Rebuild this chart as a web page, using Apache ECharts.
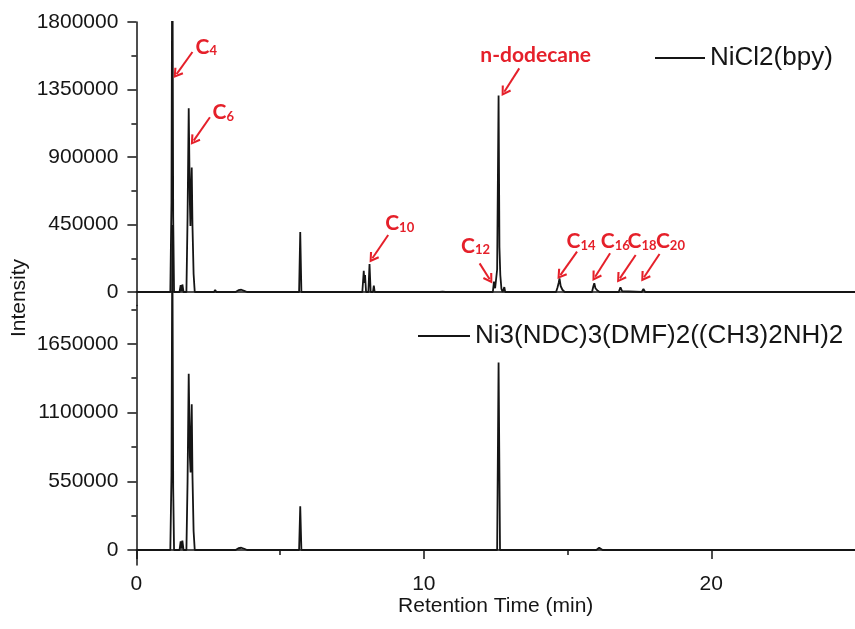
<!DOCTYPE html>
<html>
<head>
<meta charset="utf-8">
<script src="https://cdn.jsdelivr.net/npm/echarts@6/dist/echarts.min.js"></script>
<style>
  html, body { margin: 0; padding: 0; background: #fff; }
  #chart { width: 855px; height: 629px; }
</style>
</head>
<body>
<div id="chart"></div>
<script>
// GC traces: [retention time (min), intensity]
const seriesNames = ['NiCl2(bpy)', 'Ni3(NDC)3(DMF)2((CH3)2NH)2'];

const traceNiCl2 = [
  [0, 0], [1.18, 0], [1.22, 600000], [1.25, 2600000], [1.28, 500000], [1.31, 0],
  [1.50, 0], [1.54, 45000], [1.57, 5000], [1.60, 50000], [1.64, 0],
  [1.74, 0], [1.78, 500000], [1.82, 1225000], [1.86, 600000], [1.88, 440000],
  [1.905, 700000], [1.925, 830000], [1.95, 450000], [1.99, 120000], [2.03, 0],
  [2.70, 0], [2.74, 14000], [2.78, 0],
  [3.45, 0], [3.55, 12000], [3.65, 15000], [3.75, 8000], [3.85, 0],
  [5.66, 0], [5.70, 400000], [5.74, 0],
  [6.95, 0], [7.00, 5000], [7.05, 0], [7.20, 0], [7.25, 6000], [7.30, 0],
  [7.45, 0], [7.50, 7000], [7.55, 0], [7.65, 0], [7.70, 12000], [7.75, 0],
  [7.86, 0], [7.91, 142000], [7.93, 60000], [7.955, 113000], [7.99, 0],
  [8.07, 0], [8.11, 187000], [8.15, 0], [8.23, 0], [8.26, 42000], [8.29, 0],
  [10.55, 0], [10.60, 6000], [10.65, 3000], [10.70, 6000], [10.75, 0],
  [12.40, 0], [12.44, 69000], [12.48, 25000], [12.55, 150000], [12.60, 1310000],
  [12.63, 300000], [12.66, 113000], [12.70, 20000], [12.74, 0],
  [12.78, 0], [12.80, 33000], [12.83, 0],
  [14.60, 0], [14.65, 30000], [14.69, 60000], [14.72, 91000], [14.76, 40000], [14.82, 15000], [14.90, 0],
  [15.85, 0], [15.90, 40000], [15.93, 58000], [15.97, 25000], [16.05, 8000], [16.12, 0],
  [16.78, 0], [16.84, 31000], [16.90, 5000], [16.95, 0],
  [17.58, 0], [17.64, 20000], [17.70, 0],
  [18.30, 0], [18.34, 5000], [18.38, 0],
  [25, 0]
];

const traceNiMOF = [
  [0, 0], [1.18, 0], [1.22, 600000], [1.25, 2600000], [1.28, 500000], [1.31, 0],
  [1.50, 0], [1.54, 70000], [1.57, 10000], [1.60, 75000], [1.64, 0],
  [1.74, 0], [1.78, 550000], [1.82, 1410000], [1.86, 750000], [1.885, 620000],
  [1.905, 950000], [1.925, 1165000], [1.95, 600000], [1.99, 150000], [2.03, 0],
  [2.70, 0], [2.74, 12000], [2.78, 0],
  [3.45, 0], [3.55, 14000], [3.65, 18000], [3.75, 10000], [3.85, 0],
  [5.66, 0], [5.70, 350000], [5.74, 0],
  [6.55, 0], [6.60, 6000], [6.65, 0], [6.90, 0], [6.95, 7000], [7.00, 0],
  [7.20, 0], [7.25, 8000], [7.30, 0], [7.50, 0], [7.55, 9000], [7.60, 0],
  [7.85, 0], [7.90, 7000], [7.95, 0], [8.10, 0], [8.15, 6000], [8.20, 0],
  [10.55, 0], [10.60, 7000], [10.65, 0], [10.70, 6000], [10.75, 0],
  [12.55, 0], [12.60, 1500000], [12.65, 0],
  [14.62, 0], [14.67, 6000], [14.72, 0], [14.86, 0], [14.90, 6000], [14.94, 0],
  [16.00, 0], [16.05, 15000], [16.10, 18000], [16.16, 5000], [16.22, 0],
  [25, 0]
];

// axis ticks
const timeTicksMajor = [0, 10, 20];
const timeTicksMinor = [5, 15];
const topTicksMajor = [0, 450000, 900000, 1350000, 1800000];
const topTicksMinor = [225000, 675000, 1125000, 1575000];
const bottomTicksMajor = [0, 550000, 1100000, 1650000];
const bottomTicksMinor = [275000, 825000, 1375000, 1925000];

// peak annotations on the NiCl2(bpy) trace
const peakMain = ['C', 'C', 'C', 'C', 'n-dodecane', 'C', 'C', 'C', 'C'];
const peakSub = ['4', '6', '10', '12', '', '14', '16', '18', '20'];
const peakLabelAt = [
  [2.43, 1635000], [3.02, 1200000], [9.16, 460000], [11.80, 310000], [13.89, 1580000],
  [15.47, 340000], [16.66, 340000], [17.59, 340000], [18.58, 340000]
];
const arrowFrom = [
  [1.95, 1600000], [2.558, 1165000], [8.76, 380000], [11.94, 191000], [13.32, 1491000],
  [15.33, 269000], [16.48, 258000], [17.37, 247000], [18.20, 253000]
];
const arrowTo = [
  [1.398, 1453000], [1.993, 1009000], [8.21, 225000], [12.29, 85000], [12.80, 1335000],
  [14.75, 113000], [15.96, 102000], [16.82, 91000], [17.66, 98000]
];

const INK = '#151515';
const RED = '#e5202a';
const FONT = '"Liberation Sans", Arial, sans-serif';
const CHEVRON = 'path://M5,0 L10,9 L8.4,10.2 L5,3.8 L1.6,10.2 L0,9 Z';
const plainNumber = (v) => String(Math.round(v));

const chart = echarts.init(document.getElementById('chart'), null, { renderer: 'canvas' });

function yAxisPair(grid, min, max, major, minor) {
  return [
    {
      gridIndex: grid, type: 'value', position: 'left', min: min, max: max,
      axisLine: { show: true, lineStyle: { color: INK, width: 1.5 } },
      axisTick: { show: true, inside: false, length: 9, customValues: major, lineStyle: { color: INK, width: 1.5 } },
      axisLabel: { show: true, customValues: major, formatter: plainNumber, margin: 18, fontSize: 21, fontFamily: FONT, color: INK },
      splitLine: { show: false }
    },
    {
      gridIndex: grid, type: 'value', position: 'left', min: min, max: max,
      axisLine: { show: false },
      axisTick: { show: true, inside: false, length: 5, customValues: minor, lineStyle: { color: INK, width: 1.5 } },
      axisLabel: { show: false },
      splitLine: { show: false }
    }
  ];
}

const markPointData = peakMain.map((m, i) => ({
  coord: peakLabelAt[i],
  label: {
    formatter: peakSub[i] ? '{m|' + m + '}{s|' + peakSub[i] + '}' : '{m|' + m + '}'
  }
}));

const markLineData = arrowFrom.map((f, i) => [{ coord: f }, { coord: arrowTo[i] }]);

chart.setOption({
  animation: false,
  backgroundColor: '#fff',
  grid: [
    { left: 136.4, top: 22, width: 726, height: 283.5 },
    { left: 136.4, top: 305.5, width: 726, height: 259.5 }
  ],
  xAxis: [
    {
      gridIndex: 0, type: 'value', position: 'top', min: 0, max: 25,
      axisLine: { show: true, lineStyle: { color: INK, width: 1.5 } },
      axisTick: { show: false }, axisLabel: { show: false }, splitLine: { show: false }
    },
    {
      gridIndex: 1, type: 'value', position: 'bottom', min: 0, max: 25,
      axisLine: { show: true, lineStyle: { color: INK, width: 1.5 } },
      axisTick: { show: true, length: 9, customValues: timeTicksMajor, lineStyle: { color: INK, width: 1.5 } },
      axisLabel: { show: true, customValues: timeTicksMajor, formatter: plainNumber, margin: 9, fontSize: 21, fontFamily: FONT, color: INK },
      splitLine: { show: false },
      name: 'Retention Time (min)', nameLocation: 'middle', nameGap: 31,
      nameTextStyle: { fontSize: 21, fontFamily: FONT, color: INK }
    },
    {
      gridIndex: 1, type: 'value', position: 'bottom', min: 0, max: 25,
      axisLine: { show: false },
      axisTick: { show: true, length: 5, customValues: timeTicksMinor, lineStyle: { color: INK, width: 1.5 } },
      axisLabel: { show: false }, splitLine: { show: false }
    }
  ],
  yAxis: [
    ...yAxisPair(0, -90000, 1800000, topTicksMajor, topTicksMinor),
    ...yAxisPair(1, -120000, 1956000, bottomTicksMajor, bottomTicksMinor)
  ],
  legend: [
    {
      data: [seriesNames[0]], left: 650, top: 40, icon: 'rect', itemWidth: 50, itemHeight: 2,
      textStyle: { fontSize: 26, fontFamily: FONT, color: INK }, selectedMode: false
    },
    {
      data: [seriesNames[1]], left: 413, top: 318, icon: 'rect', itemWidth: 52, itemHeight: 2,
      textStyle: { fontSize: 26, fontFamily: FONT, color: INK }, selectedMode: false
    }
  ],
  graphic: [
    {
      type: 'text', x: 19, y: 298, rotation: Math.PI / 2,
      style: { text: 'Intensity', fontSize: 21, fontFamily: FONT, fill: INK, align: 'center', verticalAlign: 'middle' }
    }
  ],
  series: [
    {
      name: seriesNames[0], type: 'line', xAxisIndex: 0, yAxisIndex: 0,
      data: traceNiCl2, showSymbol: false, clip: true, color: INK,
      lineStyle: { color: INK, width: 1.8 },
      markPoint: {
        silent: true, symbol: 'circle', symbolSize: 0,
        itemStyle: { color: 'rgba(0,0,0,0)' },
        label: {
          show: true, position: 'inside',
          rich: {
            m: { fontFamily: 'Lato', fontWeight: 'bold', fontSize: 21, color: RED, lineHeight: 22, verticalAlign: 'bottom' },
            s: { fontFamily: 'Lato', fontWeight: 'bold', fontSize: 13, color: RED, lineHeight: 16, verticalAlign: 'bottom' }
          }
        },
        data: markPointData
      },
      markLine: {
        silent: true, symbol: ['none', CHEVRON], symbolSize: [11, 10],
        lineStyle: { color: RED, width: 2, type: 'solid' },
        label: { show: false },
        data: markLineData
      }
    },
    {
      name: seriesNames[1], type: 'line', xAxisIndex: 1, yAxisIndex: 2,
      data: traceNiMOF, showSymbol: false, clip: false, color: INK,
      lineStyle: { color: INK, width: 1.8 }
    }
  ]
});
</script>
</body>
</html>
